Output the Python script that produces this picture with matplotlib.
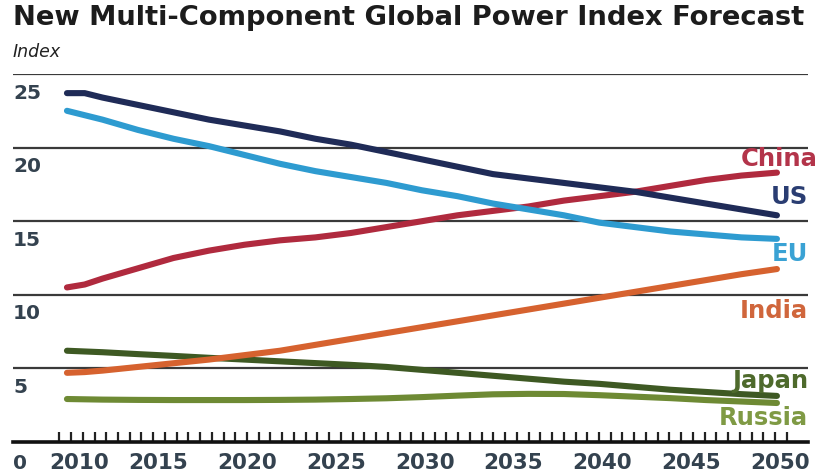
import numpy as np
import matplotlib
matplotlib.use("Agg")
import matplotlib.pyplot as plt
import matplotlib.transforms as mtransforms

plt.rcParams['font.family'] = ['DejaVu Sans']

# ---------------- data ----------------
years = [2010, 2011, 2012, 2014, 2016, 2018, 2020, 2022, 2024, 2026, 2028,
         2030, 2032, 2034, 2036, 2038, 2040, 2042, 2044, 2046, 2048, 2050]

us = [23.7, 23.7, 23.4, 22.9, 22.4, 21.9, 21.5, 21.1, 20.6, 20.2, 19.7,
      19.2, 18.7, 18.2, 17.9, 17.6, 17.3, 17.0, 16.6, 16.2, 15.8, 15.4]
eu = [22.5, 22.2, 21.9, 21.2, 20.6, 20.1, 19.5, 18.9, 18.4, 18.0, 17.6,
      17.1, 16.7, 16.2, 15.8, 15.4, 14.9, 14.6, 14.3, 14.1, 13.9, 13.8]
china = [10.5, 10.7, 11.1, 11.8, 12.5, 13.0, 13.4, 13.7, 13.9, 14.2, 14.6,
         15.0, 15.4, 15.7, 16.0, 16.4, 16.7, 17.0, 17.4, 17.8, 18.1, 18.3]
india = [4.7, 4.75, 4.85, 5.1, 5.35, 5.6, 5.9, 6.2, 6.6, 7.0, 7.4,
         7.8, 8.2, 8.6, 9.0, 9.4, 9.8, 10.2, 10.6, 11.0, 11.4, 11.75]
japan = [6.2, 6.15, 6.1, 5.97, 5.85, 5.72, 5.6, 5.48, 5.36, 5.24, 5.1,
         4.9, 4.7, 4.5, 4.3, 4.1, 3.95, 3.75, 3.55, 3.4, 3.25, 3.13]
russia = [2.92, 2.9, 2.88, 2.86, 2.85, 2.85, 2.85, 2.86, 2.88, 2.92, 2.97,
          3.05, 3.15, 3.24, 3.27, 3.26, 3.18, 3.08, 2.98, 2.85, 2.75, 2.65]

series_names = ["US", "EU", "China", "India", "Japan", "Russia"]
label_values = [16.7, 12.85, 19.3, 9.0, 4.2, 1.7]   # where the end labels sit

y_ticks = [0, 5, 10, 15, 20, 25]
y_tick_labels = ["0", "5", "10", "15", "20", "25"]
x_ticks = [2010, 2015, 2020, 2025, 2030, 2035, 2040, 2045, 2050]
x_tick_labels = ["2010", "2015", "2020", "2025", "2030", "2035", "2040", "2045", "2050"]

title = "New Multi-Component Global Power Index Forecast"
unit_label = "Index"

# ---------------- styling ----------------
line_colors = {"US": "#1f2b57", "EU": "#2e9bd0", "China": "#b02a3e",
               "India": "#d6622f", "Japan": "#3e5923", "Russia": "#6e8a34"}
text_colors = {"US": "#2a3d72", "EU": "#3aa2d4", "China": "#b3344a",
               "India": "#d0663c", "Japan": "#4e6a2c", "Russia": "#7f9a44"}
tick_color = "#34424f"

W, H = 819, 477
fig = plt.figure(figsize=(W / 100, H / 100), dpi=100)
ax = fig.add_axes([13 / W, (H - 443) / H, (808 - 13) / W, (443 - 75) / H])
ax.set_xlim(2006.96, 2051.75)
ax.set_ylim(0, 25)

for s in ["top", "right", "left"]:
    ax.spines[s].set_visible(False)
ax.spines["bottom"].set_linewidth(2.6)
ax.spines["bottom"].set_color("#111111")

# gridlines
for v in y_ticks[1:]:
    ax.axhline(v, color="#3a3a3a", lw=1.6, zorder=1)

data = {"US": us, "EU": eu, "China": china, "India": india,
        "Japan": japan, "Russia": russia}
order = ["Russia", "Japan", "India", "China", "EU", "US"]
for name in order:
    ax.plot(years, data[name], color=line_colors[name], lw=4.4,
            solid_capstyle="round", zorder=3)

# end labels
for name, lv in zip(series_names, label_values):
    xr = 2052.3 if name == "China" else 2051.75
    ax.text(xr, lv, name, color=text_colors[name], fontsize=17.5,
            fontweight="bold", ha="right", va="center", zorder=4)

# y labels below gridlines, left aligned
ax.set_yticks([])
for v, lab in zip(y_ticks, y_tick_labels):
    off = -14.5 if v == 0 else -13.0
    ax.annotate(lab, xy=(0, v), xycoords=("axes fraction", "data"),
                xytext=(0, off), textcoords="offset points",
                ha="left", va="center", fontsize=14.5, color=tick_color,
                fontweight="bold")

# x ticks: labels at years, small minor ticks pointing up
ax.set_xticks(x_ticks)
ax.set_xticklabels(x_tick_labels)
ax.tick_params(axis="x", which="major", length=0, pad=7, labelsize=15.5,
               labelcolor=tick_color)
for lab in ax.get_xticklabels():
    lab.set_fontweight("bold")
minor = np.linspace(2009.57, 2050.55, 63)
ax.set_xticks(minor, minor=True)
ax.tick_params(axis="x", which="minor", direction="in", length=7, width=1.6,
               color="#222222")
for i, lab in enumerate(ax.get_xticklabels()):
    dx = 8.5 if i == 0 else 2.0
    lab.set_transform(lab.get_transform() +
                      mtransforms.ScaledTranslation(dx / 72, 0, fig.dpi_scale_trans))

t = fig.text(13 / W, 1 - 18 / H, title, fontsize=17, fontweight="bold",
             color="#1c1c1c", ha="left", va="center")
# fit title width to the plot width
fig.canvas.draw()
bb = t.get_window_extent()
t.set_fontsize(17 * (795 / bb.width))

fig.text(13 / W, 1 - 52 / H, unit_label, fontsize=12.5, style="italic",
         color="#222222", ha="left", va="center")

fig.savefig("out.png", dpi=100)
